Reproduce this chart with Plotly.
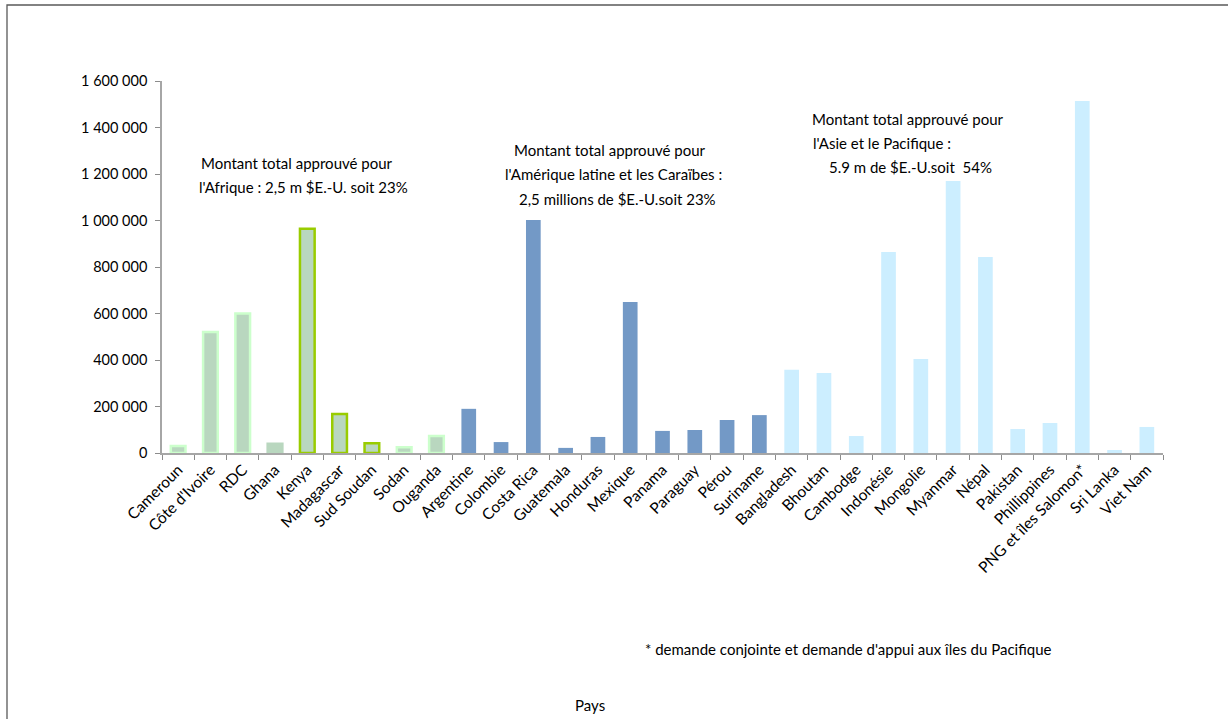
import plotly.graph_objects as go

W, H = 1228, 719
ML, MR, MT, MB = 162, 65, 81, 266
PW, PH = W - ML - MR, H - MT - MB

africa = ["Cameroun", "Côte d'Ivoire", "RDC", "Ghana", "Kenya", "Madagascar",
          "Sud Soudan", "Sodan", "Ouganda"]
africa_vals = [30000, 520000, 600000, 40000, 965000, 168000, 42000, 25000, 73000]
africa_line = ["#ccffcc", "#ccffcc", "#ccffcc", "#b9d7bf", "#99cc00", "#99cc00",
               "#99cc00", "#ccffcc", "#ccffcc"]

latam = ["Argentine", "Colombie", "Costa Rica", "Guatemala", "Honduras", "Mexique",
         "Panama", "Paraguay", "Pérou", "Suriname"]
latam_vals = [190000, 47000, 1002000, 22000, 69000, 650000, 95000, 99000, 142000, 163000]

asia = ["Bangladesh", "Bhoutan", "Cambodge", "Indonésie", "Mongolie", "Myanmar",
        "Népal", "Pakistan", "Phillippines", "PNG et îles Salomon*", "Sri Lanka", "Viet Nam"]
asia_vals = [358000, 344000, 73000, 864000, 404000, 1170000, 843000, 103000, 129000,
             1514000, 13000, 112000]

categories = africa + latam + asia
FONT = "Lato"

fig = go.Figure()
fig.add_trace(go.Bar(x=africa, y=africa_vals, marker=dict(color="#b9d7bf",
                     line=dict(color=africa_line, width=2.5)), showlegend=False))
fig.add_trace(go.Bar(x=latam, y=latam_vals, marker=dict(color="#7399c6",
                     line=dict(width=0)), showlegend=False))
fig.add_trace(go.Bar(x=asia, y=asia_vals, marker=dict(color="#cceeff",
                     line=dict(width=0)), showlegend=False))


def px(x):
    return (x - ML) / PW


def py(y):
    return (H - MB - y) / PH


annots = [
    ("Montant total approuvé pour", 297, 163, "center"),
    ("l'Afrique : 2,5 m $E.-U. soit 23%", 303, 187, "center"),
    ("Montant total approuvé pour", 610, 150, "center"),
    ("l'Amérique latine et les Caraïbes :", 613, 174, "center"),
    ("2,5 millions de $E.-U.soit 23%", 617, 199, "center"),
    ("Montant total approuvé pour", 810, 119, "left"),
    ("l'Asie et le Pacifique :", 811, 143, "left"),
    ("5.9 m de $E.-U.soit  54%", 827, 167, "left"),
    ("* demande conjointe et demande d'appui aux îles du Pacifique", 643, 649, "left"),
    ("Pays", 590, 705, "center"),
]
for text, x, y, anc in annots:
    fig.add_annotation(text=text, x=px(x), y=py(y), xref="paper", yref="paper",
                       xanchor=anc, yanchor="middle", showarrow=False,
                       font=dict(family=FONT, size=15, color="#000000"))

fig.add_shape(type="rect", xref="paper", yref="paper",
              x0=px(7), x1=px(1260), y0=py(750), y1=py(5),
              line=dict(color="#595959", width=1.3), fillcolor="rgba(0,0,0,0)")

fig.update_layout(
    width=W, height=H,
    margin=dict(l=ML, r=MR, t=MT, b=MB),
    paper_bgcolor="white", plot_bgcolor="white",
    barmode="overlay", bargap=0.545,
    separators=", ",
    font=dict(family=FONT, size=13, color="#000000"),
    xaxis=dict(categoryorder="array", categoryarray=categories, range=[-0.5, len(categories) - 0.5],
               tickangle=-45, showline=True, linecolor="#a6a6a6", linewidth=1.5,
               ticks="outside", tickson="boundaries", ticklen=5, tickcolor="#8c8c8c",
               showgrid=False, tickfont=dict(family=FONT, size=15.5), fixedrange=True),
    yaxis=dict(range=[0, 1600000], tick0=0, dtick=200000, tickformat=",d",
               showline=True, linecolor="#a6a6a6", linewidth=1.5,
               ticks="outside", ticklen=5, tickcolor="#8c8c8c", showgrid=False,
               zeroline=False, tickfont=dict(family=FONT, size=14.5), fixedrange=True,
               ticklabelstandoff=5),
)

fig.write_html("out.html")
